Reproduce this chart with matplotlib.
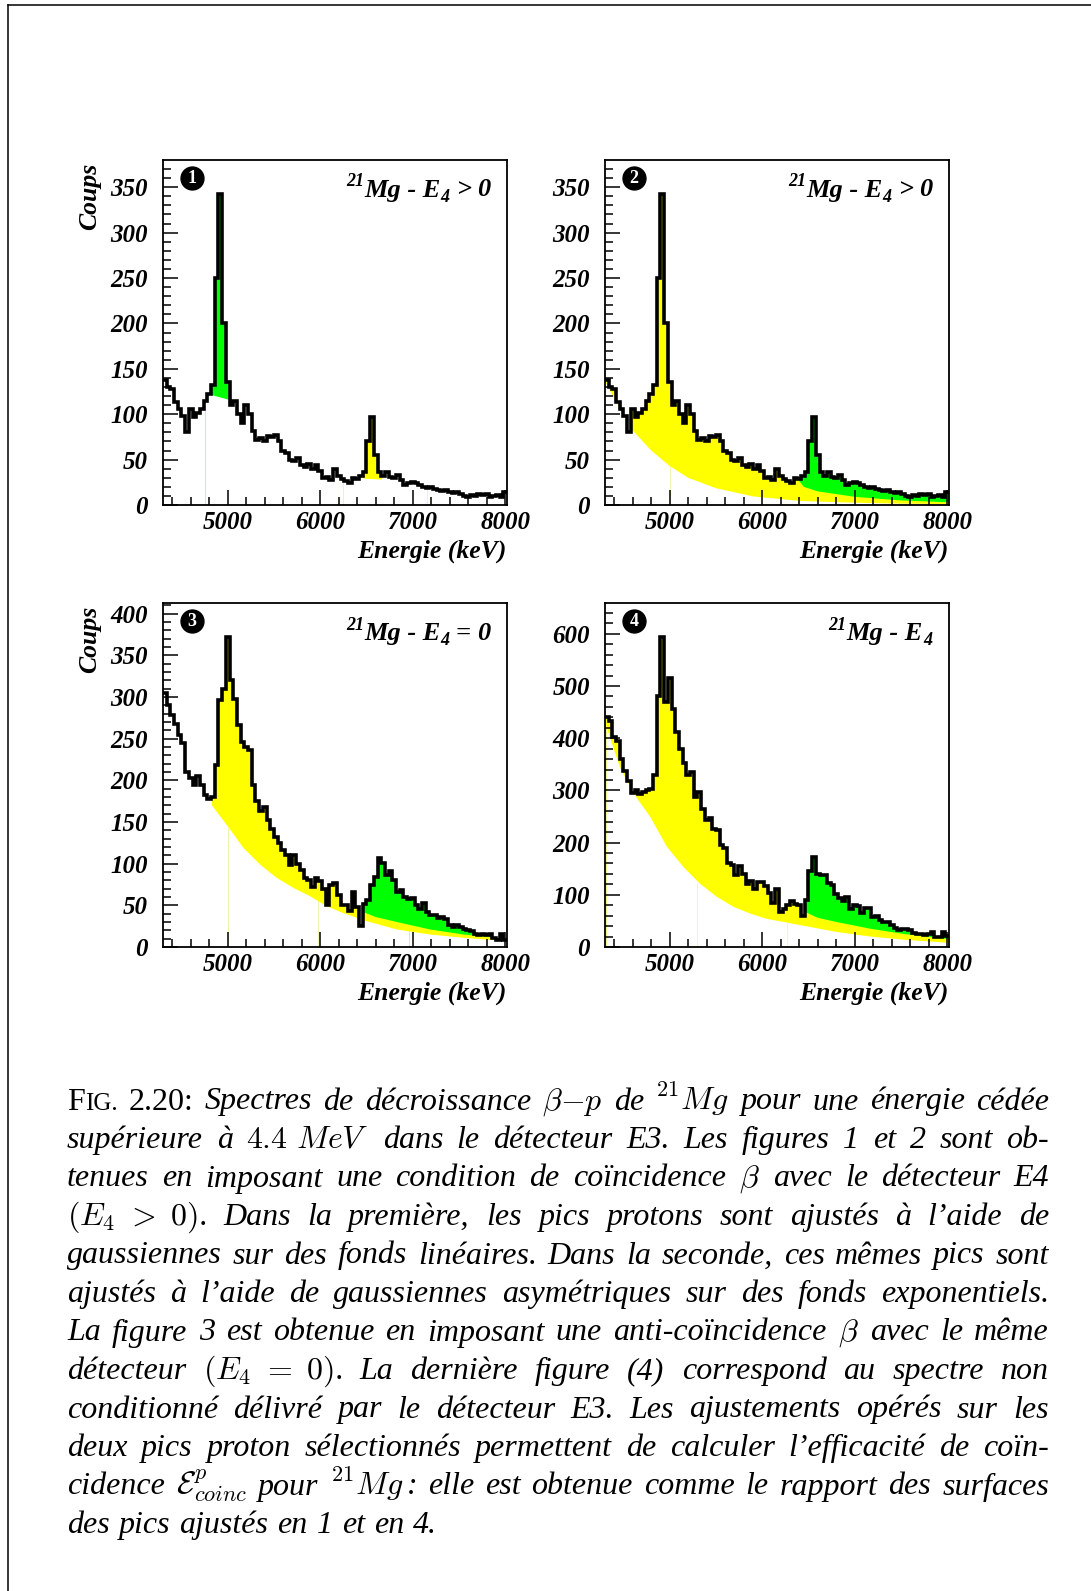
import re
import numpy as np
import matplotlib
matplotlib.use("Agg")
import matplotlib.pyplot as plt
from matplotlib.patches import Polygon
from matplotlib.lines import Line2D

W, H = 1091, 1591

plt.rcParams["font.family"] = ["Liberation Serif", "DejaVu Serif"]
plt.rcParams["font.style"] = "italic"
plt.rcParams["font.weight"] = "bold"
plt.rcParams["font.size"] = 18
plt.rcParams["mathtext.fontset"] = "cm"

# histogram binning (keV)
BIN_START = 4300
BIN_WIDTH = 40

# counts per bin, E4 > 0 (panels 1 and 2)
counts_e4_pos = [
    138, 130, 128, 114, 106, 98, 80, 106, 97, 101, 106, 115, 122, 132,
    250, 343, 200, 135,
    110, 115, 100, 90, 110, 100, 82, 72, 74, 70,
    76, 75, 77, 70, 60, 57, 50, 48, 52, 44,
    42, 45, 40, 44, 38, 30, 31, 28, 40, 32,
    29, 26, 24, 30, 29, 32, 36, 70, 97, 55,
    36, 32, 36, 31, 30, 33, 28, 22, 24, 25,
    24, 22, 20, 19, 20, 18, 17, 15, 16, 14,
    13, 14, 12, 10, 9, 11, 10, 12, 11, 12,
    9, 10, 11, 9, 14,
]
# counts per bin, E4 = 0 (panel 3)
counts_e4_zero = [
    305, 290, 278, 268, 255, 245, 210, 203, 195, 205, 195, 182, 178, 180,
    218, 296, 310, 372,
    320, 298, 266, 246, 240, 236, 195, 175, 163, 168,
    152, 142, 132, 125, 117, 111, 99, 110, 100, 92,
    83, 80, 72, 83, 79, 70, 50, 74, 77, 62,
    51, 50, 43, 66, 48, 25, 52, 56, 75, 84,
    107, 101, 86, 91, 80, 66, 68, 60, 58, 59,
    51, 46, 53, 42, 39, 39, 35, 36, 34, 26,
    24, 26, 24, 22, 20, 19, 16, 15, 16, 14,
    16, 11, 9, 16, 9,
]
# counts per bin, no condition (panel 4)
counts_all = [
    440, 432, 403, 395, 360, 338, 318, 295, 300, 294, 297, 300, 302, 330,
    480, 594, 470, 515,
    455, 412, 380, 353, 330, 335, 288, 296, 265, 244,
    248, 226, 225, 195, 189, 160, 158, 138, 155, 140,
    120, 126, 112, 124, 125, 117, 104, 85, 112, 68,
    72, 80, 88, 82, 80, 60, 90, 145, 172, 140,
    137, 137, 122, 118, 102, 94, 89, 95, 72, 80,
    78, 66, 74, 74, 58, 60, 52, 47, 47, 42,
    36, 32, 35, 34, 32, 26, 25, 25, 23, 24,
    28, 19, 20, 28, 22,
]

# fitted backgrounds (keV, counts)
bg1a_e, bg1a_c = [4830, 5010], [121, 116]
bg1b_e, bg1b_c = [6470, 6670], [29, 28]
bg2a_e = [4300, 4450, 4600, 4800, 5000, 5200, 5500, 5900, 6400, 7000, 7500, 8020]
bg2a_c = [136, 108, 82, 60, 43, 30, 18.5, 9.5, 4.5, 2.5, 1.5, 1]
bg2b_e = [6380, 6450, 6600, 7000, 7500, 8020]
bg2b_c = [29, 20, 15, 9, 5, 3]
bg3a_e = [4830, 5000, 5170, 5350, 5530, 5710, 5890, 6070, 6220, 6470, 6830, 7190, 7550, 7910, 8020]
bg3a_c = [170, 145, 119, 99, 83, 71, 61, 49, 42, 32, 21, 15, 11, 8, 7]
bg3b_e = [6440, 6600, 6830, 7190, 7550, 7910, 8020]
bg3b_c = [43, 36, 30, 21, 15, 11, 10]
bg4a_e = [4310, 4460, 4610, 4790, 4970, 5150, 5330, 5510, 5690, 5870, 6050, 6440, 6800, 7170, 7530, 8020]
bg4a_c = [425, 345, 294, 249, 192, 153, 121, 96, 77, 64, 54, 41, 29, 20, 14, 8]
bg4b_e = [6430, 6600, 6800, 7170, 7530, 8020]
bg4b_c = [70, 56, 48, 35, 25, 15]

GREEN = "#00ff00"
YELLOW = "#ffff00"

panels = [
    dict(rect=(163, 160, 507, 505), counts=counts_e4_pos, ymax=380, ymaj=50, ymin=10,
         fills=[(bg1a_e, bg1a_c, GREEN), (bg1b_e, bg1b_c, YELLOW)],
         faint=[(4750, 104, "#b0f5b0"), (6250, 30, "#f5f0a0"), (7150, 20, "#f5f0a0")],
         num="1", cond=" > 0", ylabel=True),
    dict(rect=(605, 160, 949, 505), counts=counts_e4_pos, ymax=380, ymaj=50, ymin=10,
         fills=[(bg2a_e, bg2a_c, YELLOW), (bg2b_e, bg2b_c, GREEN)],
         faint=[(5000, 43, "#f5f0a0")],
         num="2", cond=" > 0", ylabel=False),
    dict(rect=(163, 603, 507, 947), counts=counts_e4_zero, ymax=413, ymaj=50, ymin=10,
         fills=[(bg3a_e, bg3a_c, YELLOW), (bg3b_e, bg3b_c, GREEN)],
         faint=[(5000, 143, "#f0f0a0"), (5975, 55, "#f0f0a0"), (6955, 20, "#c0f0c0")],
         num="3", cond=" = 0", ylabel=True),
    dict(rect=(605, 603, 949, 947), counts=counts_all, ymax=659, ymaj=100, ymin=20,
         fills=[(bg4a_e, bg4a_c, YELLOW), (bg4b_e, bg4b_c, GREEN)],
         faint=[(4312, 420, "#f0f080"), (5290, 122, "#f5f0c0"), (6270, 48, "#f5f0c0")],
         num="4", cond="", ylabel=False),
]

fig = plt.figure(figsize=(W / 100, H / 100), dpi=100)
renderer = fig.canvas.get_renderer()


def fx(x):
    return x / W


def fy(y):
    return 1 - y / H


def place(segs, x, y, align="left"):
    # segs: (text, props, dy px, gap before px)
    objs = []
    for s, props, dy, gap in segs:
        t = fig.text(0, 0, s, ha="left", va="baseline", **props)
        objs.append((t, dy, gap, t.get_window_extent(renderer).width))
    total = sum(w + g for _, _, g, w in objs)
    if align == "right":
        x -= total
    for t, dy, gap, w in objs:
        x += gap
        t.set_position((fx(x), fy(y - dy)))
        x += w
    return total


title_main = dict(family="Liberation Serif", style="italic", weight="bold", size=19)
title_small = dict(family="Liberation Serif", style="italic", weight="bold", size=13)

for p in panels:
    l, t, r, b = p["rect"]
    ax = fig.add_axes([fx(l), fy(b), (r - l) / W, (b - t) / H])
    counts = p["counts"]
    edges = BIN_START + BIN_WIDTH * np.arange(len(counts) + 1)
    ax.set_xlim(BIN_START, edges[-1])
    ax.set_ylim(0, p["ymax"])

    # area under the histogram, used to clip the fit fills
    verts = [(edges[0], 0)]
    for i, c in enumerate(counts):
        verts += [(edges[i], c), (edges[i + 1], c)]
    verts.append((edges[-1], 0))
    under = Polygon(verts, closed=True, transform=ax.transData)

    for e, c, col in p["fills"]:
        pts = list(zip(e, c)) + [(e[-1], p["ymax"]), (e[0], p["ymax"])]
        poly = Polygon(pts, closed=True, facecolor=col, edgecolor="none", zorder=1)
        ax.add_patch(poly)
        poly.set_clip_path(under)

    for e, top, col in p["faint"]:
        ax.plot([e, e], [0, top], color=col, lw=0.6, zorder=0.5)

    ax.stairs(counts, edges, baseline=None, color="black", lw=2.6, zorder=3)

    ax.set_xticks([5000, 6000, 7000, 8000])
    ax.set_xticks(np.arange(4400, 8001, 200), minor=True)
    ax.set_yticks(np.arange(0, p["ymax"] + 1, p["ymaj"]))
    ax.set_yticks(np.arange(0, p["ymax"], p["ymin"]), minor=True)
    ax.tick_params(which="both", direction="in", top=False, right=False, width=1.1)
    ax.tick_params(which="major", length=10.5)
    ax.tick_params(which="minor", length=5.5)
    ax.tick_params(axis="x", pad=4.5, labelsize=18)
    ax.tick_params(axis="y", pad=11, labelsize=18)
    for s in ax.spines.values():
        s.set_linewidth(1.3)

    # numbered badge
    bx, by = 29 / (r - l), 1 - 17.5 / (b - t)
    ax.plot([bx], [by], "o", ms=16.5, color="black", transform=ax.transAxes, clip_on=False, zorder=5)
    ax.text(bx, by - 0.003, p["num"], color="white", ha="center", va="center", transform=ax.transAxes,
            family="Liberation Serif", style="normal", weight="bold", size=13, zorder=6)

    # title: 21Mg - E4 ...
    segs = [("21", title_small, 10, 0), ("Mg - E", title_main, 0, 0), ("4", title_small, -6, 0.5)]
    if p["cond"]:
        segs += [(p["cond"].split()[0], title_main, 0, 6), (p["cond"].split()[1], title_main, 0, 6)]
    place(segs, r - 17, t + 36.5, align="right")

    fig.text(fx(r), fy(b + 53), "Energie (keV)", ha="right", va="baseline", size=18.5)
    if p["ylabel"]:
        fig.text(fx(90), fy(t + 3), "Coups", rotation=90, ha="center", va="top", size=18.5)

# page frame
fig.add_artist(Line2D([fx(8), fx(8)], [fy(5), 0], transform=fig.transFigure, color="black", lw=1.1))
fig.add_artist(Line2D([fx(8), 1], [fy(5), fy(5)], transform=fig.transFigure, color="black", lw=1.1))

# caption, justified between two margins
CAP_LEFT, CAP_RIGHT = 67, 1049
CAP_BASE0, CAP_STEP = 1109.5, 38.5
CAP_SIZE = 23
cap_it = dict(family="Liberation Serif", style="italic", weight="normal", size=CAP_SIZE)
cap_rm = dict(family="Liberation Serif", style="normal", weight="normal", size=CAP_SIZE)
cap_sc = dict(family="Liberation Serif", style="normal", weight="normal", size=CAP_SIZE * 0.78)

caption_lines = [
    r"FIG. 2.20: Spectres de décroissance $\beta{-}p$ de $^{21}Mg$ pour une énergie cédée",
    r"supérieure à $4.4\ MeV$ dans le détecteur E3. Les figures 1 et 2 sont ob-",
    r"tenues en imposant une condition de coïncidence $\beta$ avec le détecteur E4",
    r"$(E_4\ >\ 0)$. Dans la première, les pics protons sont ajustés à l’aide de",
    r"gaussiennes sur des fonds linéaires. Dans la seconde, ces mêmes pics sont",
    r"ajustés à l’aide de gaussiennes asymétriques sur des fonds exponentiels.",
    r"La figure 3 est obtenue en imposant une anti-coïncidence $\beta$ avec le même",
    r"détecteur $(E_4\ =\ 0)$. La dernière figure (4) correspond au spectre non",
    r"conditionné délivré par le détecteur E3. Les ajustements opérés sur les",
    r"deux pics proton sélectionnés permettent de calculer l’efficacité de coïn-",
    r"cidence $\mathcal{E}^{p}_{coinc}$ pour $^{21}Mg\,$: elle est obtenue comme le rapport des surfaces",
    r"des pics ajustés en 1 et en 4.",
]

for i, line in enumerate(caption_lines):
    y = CAP_BASE0 + i * CAP_STEP
    words = re.findall(r"(?:\$[^$]*\$|\S)+", line)
    word_segs = []
    for w in words:
        if w == "FIG.":
            word_segs.append([("F", cap_rm), ("IG.", cap_sc)])
        elif w == "2.20:":
            word_segs.append([(w, cap_rm)])
        else:
            word_segs.append([(w, cap_it)])
    objs = []
    for ws in word_segs:
        parts = []
        for s, props in ws:
            t = fig.text(0, 0, s, ha="left", va="baseline", **props)
            parts.append((t, t.get_window_extent(renderer).width))
        objs.append(parts)
    widths = [sum(pw for _, pw in parts) for parts in objs]
    if i < len(caption_lines) - 1:
        gap = (CAP_RIGHT - CAP_LEFT - sum(widths)) / (len(objs) - 1)
    else:
        gap = 9
    x = CAP_LEFT
    for parts, wd in zip(objs, widths):
        xx = x
        for t, pw in parts:
            t.set_position((fx(xx), fy(y)))
            xx += pw
        x += wd + gap

fig.savefig("out.png", dpi=100)
